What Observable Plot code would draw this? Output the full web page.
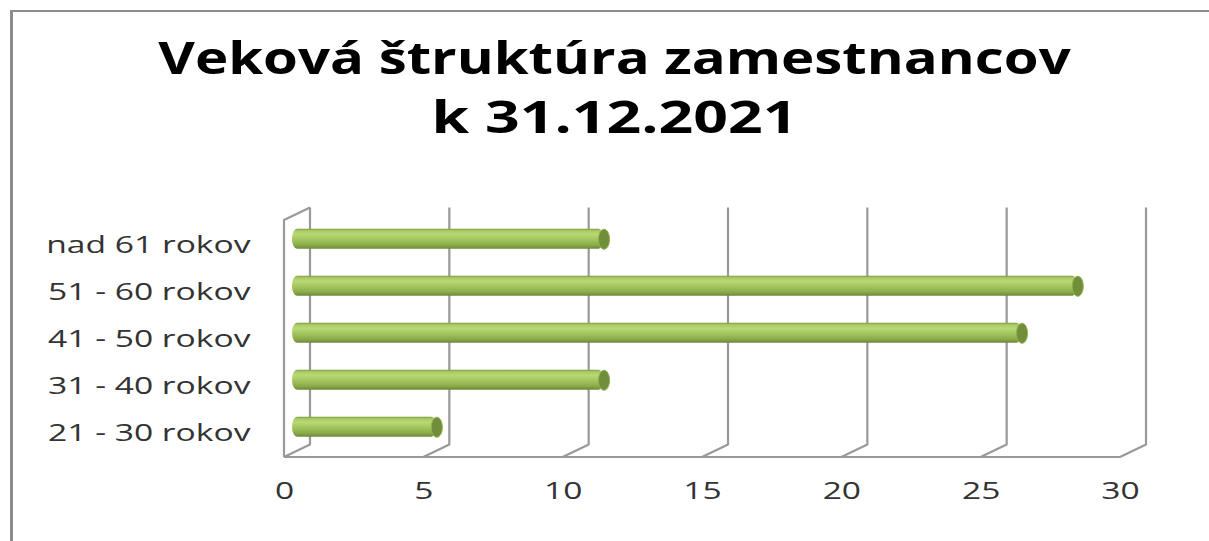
<!DOCTYPE html>
<html>
<head>
<meta charset="utf-8">
<script src="https://cdn.jsdelivr.net/npm/d3@7"></script>
<script src="https://cdn.jsdelivr.net/npm/@observablehq/plot@0.6"></script>
<style>
  html, body { margin: 0; padding: 0; background: #fff; }
  body { position: relative; width: 1209px; height: 541px; overflow: hidden; font-family: "Open Sans", sans-serif; }
  #frame { position: absolute; left: 10px; top: 10px; width: 1300px; height: 600px;
           border-left: 3px solid #8c8c8c; border-top: 2px solid #8c8c8c; box-sizing: border-box; }
  #title { position: relative; height: 170px; box-sizing: border-box; padding-top: 28px; padding-left: 20px;
           text-align: center; font-weight: 700; font-size: 44px; line-height: 59px; color: #000; }
  #title div { transform-origin: center; }
  #t1 { transform: scaleX(1.28); }
  #t2 { transform: scaleX(1.38); }
  #chart { position: relative; }
</style>
</head>
<body>
<div id="frame"></div>
<div id="title"><div id="t1">Veková štruktúra zamestnancov</div><div id="t2">k 31.12.2021</div></div>
<div id="chart"></div>
<script>
// ---- data ----
const categories = ["nad 61 rokov", "51 - 60 rokov", "41 - 50 rokov", "31 - 40 rokov", "21 - 30 rokov"];
const counts = [11, 28, 26, 11, 5];
const xTicks = [0, 5, 10, 15, 20, 25, 30];

const data = categories.map((c, i) => ({category: c, count: counts[i]}));

// ---- style constants ----
const DX = 26, DY = -12.5;        // depth offset of the back wall
const BX = DX / 2, BY = DY / 2;   // bars sit at mid depth
const gridColor = "#999999";

// 3D walls, floor and gridlines drawn from the x scale
const walls = (index, scales, values, dims) => {
  const x = scales.x;
  const y0 = dims.marginTop, y1 = dims.height - dims.marginBottom;
  const g = d3.create("svg:g");
  const defs = g.append("defs");
  const grad = defs.append("linearGradient").attr("id", "cyl")
    .attr("x1", 0).attr("y1", 0).attr("x2", 0).attr("y2", 1);
  [[0, "#7d9a47"], [0.1, "#a8cb63"], [0.28, "#b8d874"], [0.55, "#a2c45c"], [0.82, "#8aab49"], [1, "#6b8737"]]
    .forEach(([o, c]) => grad.append("stop").attr("offset", o).attr("stop-color", c));
  const p = g.append("g").attr("fill", "none").attr("stroke", gridColor).attr("stroke-width", 2.2)
    .attr("stroke-linejoin", "round");
  const xf = x(xTicks[0]);
  p.append("path").attr("d", `M${xf},${y1}V${y0}L${xf + DX},${y0 + DY}`);
  for (const v of xTicks) {
    p.append("path").attr("d", `M${x(v) + DX},${y0 + DY}V${y1 + DY}L${x(v)},${y1}`);
  }
  p.append("path").attr("d", `M${x(xTicks[0])},${y1}H${x(xTicks[xTicks.length - 1])}`);
  return g.node();
};

// ellipse symbol for the cylinder end caps
const capSymbol = {
  draw(ctx) {
    const rx = 5.5, ry = 10, k = 0.5523;
    ctx.moveTo(rx, 0);
    ctx.bezierCurveTo(rx, ry * k, rx * k, ry, 0, ry);
    ctx.bezierCurveTo(-rx * k, ry, -rx, ry * k, -rx, 0);
    ctx.bezierCurveTo(-rx, -ry * k, -rx * k, -ry, 0, -ry);
    ctx.bezierCurveTo(rx * k, -ry, rx, -ry * k, rx, 0);
    ctx.closePath();
  }
};

const chart = Plot.plot({
  width: 1209,
  height: 371,
  marginTop: 50,
  marginBottom: 84,
  marginLeft: 284,
  marginRight: 89,
  style: {fontFamily: "Open Sans, sans-serif", fontSize: "24px", color: "#333333", background: "transparent"},
  x: {domain: [0, 30], ticks: xTicks, tickSize: 0, tickPadding: 24, label: null, tickFormat: d => String(d)},
  y: {domain: categories, paddingInner: 0.58, paddingOuter: 0.29, tickSize: 0, tickPadding: 34, label: null},
  marks: [
    walls,
    Plot.barX(data, {x1: 0, x2: "count", y: "category", dx: BX, dy: BY, insetLeft: -5,
      fill: "url(#cyl)", rx: 5, ry: 10}),
    Plot.dot(data, {x: "count", y: "category", dx: BX, dy: BY, symbol: capSymbol,
      fill: "#718e3b", stroke: "#8fb14f", strokeWidth: 1})
  ]
});
document.getElementById("chart").append(chart);

// horizontal stretch of the axis labels (matches the wide lettering of the original)
const stretch = 1.4;
chart.querySelectorAll("text").forEach(t => {
  const w = t.getComputedTextLength();
  t.setAttribute("textLength", (w * stretch).toFixed(1));
  t.setAttribute("lengthAdjust", "spacingAndGlyphs");
});
</script>
</body>
</html>
